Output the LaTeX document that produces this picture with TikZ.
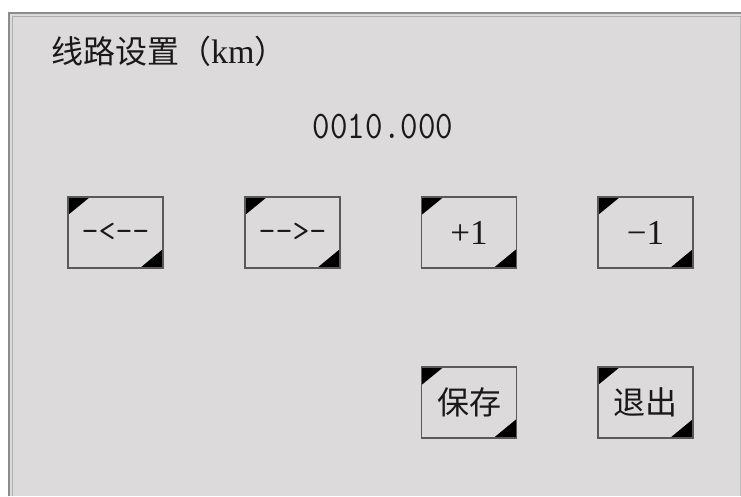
\documentclass[tikz,border=0pt]{standalone}
\usepackage{fontspec}
\usepackage{xcolor}
\usepackage{graphicx}
\newfontfamily\cjk{Noto Sans CJK SC}
\newfontfamily\serifnum{Liberation Serif}
\definecolor{panelbg}{RGB}{220,218,219}
\definecolor{rimgray}{RGB}{140,140,140}
\definecolor{inkgray}{RGB}{25,25,25}

\begin{document}
\begin{tikzpicture}[x=1pt,y=-1pt,inner sep=0pt,text=inkgray,
  btn/.style={rectangle,draw=black!65,line width=1.2pt,fill=panelbg,
    minimum width=95pt,minimum height=71pt,
    path picture={
      \fill[black] (path picture bounding box.north west) -- ++(22pt,0pt) -- ++(-22pt,-18pt) -- cycle;
      \fill[black] (path picture bounding box.south east) -- ++(-23pt,0pt) -- ++(23pt,19pt) -- cycle;}},
  mono/.style={font=\fontsize{33}{33}\selectfont\ttfamily},
  roman/.style={font=\fontsize{35}{35}\selectfont\serifnum},
  han/.style={font=\fontsize{32}{32}\selectfont\cjk}]
\useasboundingbox (0,0) rectangle (741,496);
\fill[white] (0,0) rectangle (741,496);
\fill[panelbg] (8,12) rectangle (741,496);
\draw[rimgray,line width=1.6pt] (8.8,496) -- (8.8,12.8) -- (741,12.8);
\draw[rimgray!70,line width=1pt] (12.5,496) -- (12.5,16.5) -- (741,16.5);
\draw[black!25,line width=0.8pt] (740,17) -- (740,496);
\node[han,anchor=west] (title) at (51,51) {线路设置{\cjk （}{\fontsize{34}{34}\selectfont\serifnum km}{\cjk ）}};
\node[font=\fontsize{34}{34}\selectfont\ttfamily] (value) at (383,127) {\scalebox{1}[1.15]{0010.000}};
\node[btn,mono] (left) at (115.5,232.5) {-<--};
\node[btn,mono] (right) at (292.5,232.5) {-->-};
\node[btn,roman] (plus) at (469,232.5) {+1};
\node[btn,roman] (minus) at (645.5,232.5) {−1};
\node[btn,han] (save) at (469,402.5) {保存};
\node[btn,han] (quit) at (645.5,402.5) {退出};
\end{tikzpicture}
\end{document}
